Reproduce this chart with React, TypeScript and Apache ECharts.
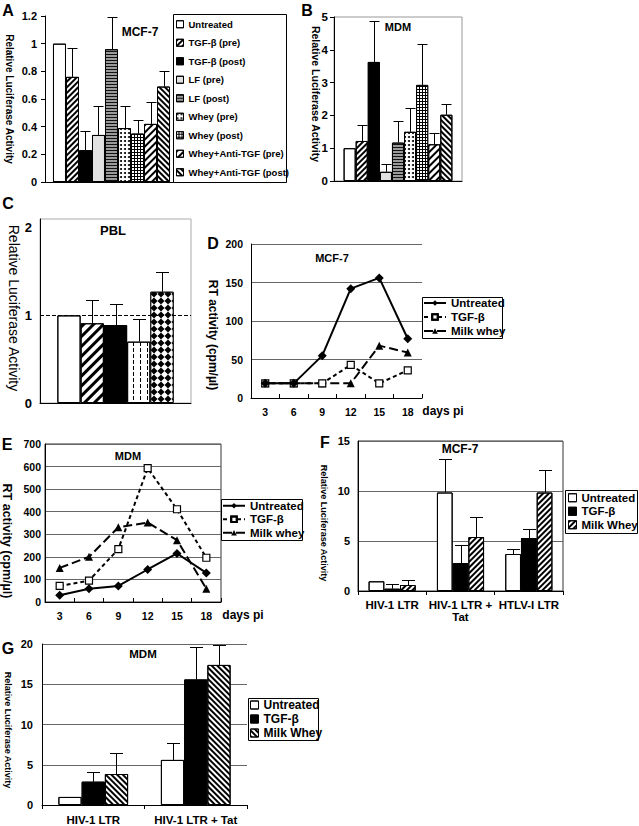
import React, { useEffect, useRef } from 'react';
import * as echarts from 'echarts';

const FONT = '"Liberation Sans", Arial, Helvetica, sans-serif';

// ---------- Panel A / B (9 treatments) ----------
const treatmentNames = [
  'Untreated', 'TGF-β (pre)', 'TGF-β (post)', 'LF (pre)', 'LF (post)',
  'Whey (pre)', 'Whey (post)', 'Whey+Anti-TGF (pre)', 'Whey+Anti-TGF (post)',
];
const mcf7Values = [1.0, 0.76, 0.23, 0.34, 0.96, 0.39, 0.35, 0.42, 0.69];
const mcf7ErrTop = [1.0, 0.97, 0.37, 0.55, 1.19, 0.55, 0.45, 0.58, 0.8];
const mdmValues = [1.0, 1.22, 3.63, 0.28, 1.17, 1.5, 2.93, 1.12, 2.02];
const mdmErrTop = [1.0, 1.72, 4.88, 0.51, 1.84, 2.24, 4.17, 1.45, 2.35];

// ---------- Panel C (PBL) ----------
const pblNames = ['c1', 'c2', 'c3', 'c4', 'c5'];
const pblValues = [1.0, 0.91, 0.89, 0.7, 1.27];
const pblErrTop = [1.0, 1.17, 1.13, 0.96, 1.5];

// ---------- Panel D / E (RT activity) ----------
const days = ['3', '6', '9', '12', '15', '18'];
const lineNames = ['Untreated', 'TGF-β', 'Milk whey'];
const dUntreated = [19, 19, 55, 142, 156, 77];
const dTgf = [19, 19, 19, 43, 19, 36];
const dWhey = [19, 19, 19, 19, 68, 59];
const eUntreated = [30, 59, 71, 144, 215, 129];
const eTgf = [71, 95, 234, 593, 411, 196];
const eWhey = [151, 200, 331, 352, 274, 59];

// ---------- Panel F / G ----------
const groupNames = ['Untreated', 'TGF-β', 'Milk Whey'];
const fCats = ['HIV-1 LTR', 'HIV-1 LTR +\nTat', 'HTLV-I LTR'];
const fValues = [[0.97, 9.85, 3.7], [0.23, 2.8, 5.3], [0.6, 5.4, 9.85]];
const fErrTop = [[0.97, 13.2, 4.2], [0.67, 4.6, 6.2], [1.07, 7.4, 12.1]];
const gCats = ['HIV-1 LTR', 'HIV-1 LTR + Tat'];
const gValues = [[1.0, 5.6], [2.9, 15.6], [3.85, 17.4]];
const gErrTop = [[1.0, 7.7], [4.15, 19.6], [6.45, 19.9]];

// ---------- decals ----------
const SLASH = -Math.PI / 4;
const BACK = Math.PI / 4;
const baseDecal = { symbol: 'rect', symbolSize: 1, symbolKeepAspect: false, rotation: 0 };
const noDecal = { ...baseDecal, color: 'rgba(0,0,0,0)', dashArrayX: [1, 0], dashArrayY: [1, 0] };
const stripes = (w: number, gap: number, rot: number, color = '#000') => ({
  ...baseDecal, color, dashArrayX: [1, 0], dashArrayY: [w, gap], rotation: rot,
});
const dots = (size: number, gap: number, color: string) => ({
  ...baseDecal, symbol: 'circle', symbolKeepAspect: true, color, dashArrayX: [size, gap], dashArrayY: [size, gap],
});
const gridDecal = { ...baseDecal, color: '#fff', dashArrayX: [2, 1], dashArrayY: [2, 1] };
const vDash = { ...baseDecal, color: '#000', dashArrayX: [1, 6], dashArrayY: [4, 2] };
const diamonds = { ...baseDecal, symbol: 'diamond', color: '#fff', dashArrayX: [7, 0], dashArrayY: [7, 0] };

const abStyles = [
  { fill: '#fff', decal: noDecal },
  { fill: '#fff', decal: stripes(1.3, 1.7, SLASH) },
  { fill: '#000', decal: noDecal },
  { fill: '#e2e2e2', decal: dots(1, 1, '#999') },
  { fill: '#9a9a9a', decal: stripes(1, 1.5, 0, '#111') },
  { fill: '#fff', decal: dots(1.5, 1.5, '#000') },
  { fill: '#000', decal: gridDecal },
  { fill: '#fff', decal: stripes(1.2, 2.8, SLASH) },
  { fill: '#fff', decal: stripes(1.3, 1.7, BACK) },
];
const cStyles = [
  { fill: '#fff', decal: noDecal },
  { fill: '#fff', decal: stripes(2.5, 3.5, SLASH) },
  { fill: '#000', decal: noDecal },
  { fill: '#fff', decal: vDash },
  { fill: '#000', decal: diamonds },
];
const fStyles = [
  { fill: '#fff', decal: noDecal },
  { fill: '#000', decal: noDecal },
  { fill: '#fff', decal: stripes(1.3, 1.7, SLASH) },
];
const gStyles = [
  { fill: '#fff', decal: noDecal },
  { fill: '#000', decal: noDecal },
  { fill: '#fff', decal: stripes(1.3, 1.7, BACK) },
];

const strip = (n: string) => n.split('|')[1];

function bars(id: string, names: string[], data: number[][], axis: number, styles: any[], gap: string) {
  return names.map((n, j) => ({
    type: 'bar', name: `${id}|${n}`, xAxisIndex: axis, yAxisIndex: axis,
    data: data[j], barGap: '0%', barCategoryGap: gap, z: 2,
    itemStyle: { color: styles[j].fill, borderColor: '#000', borderWidth: 1, decal: styles[j].decal },
    emphasis: { disabled: true },
  }));
}

function errSeries(axis: number, n: number, gapFrac: number, cap: number, values: number[][], tops: number[][]) {
  const rows: number[][] = [];
  values.forEach((vals, j) => vals.forEach((v, c) => {
    if (tops[j][c] > v) rows.push([c, j, v, tops[j][c]]);
  }));
  return {
    type: 'custom', xAxisIndex: axis, yAxisIndex: axis, data: rows, z: 3, silent: true,
    encode: { x: 0, y: [2, 3] }, itemStyle: { decal: noDecal },
    renderItem: (_p: any, api: any) => {
      const cat = api.value(0); const j = api.value(1);
      const band = api.size([1, 0])[0];
      const total = band * (1 - gapFrac);
      const bw = total / n;
      const a = api.coord([cat, api.value(2)]);
      const b = api.coord([cat, api.value(3)]);
      const x = Math.round(a[0] - total / 2 + bw * (j + 0.5)) + 0.5;
      const yb = Math.round(b[1]) + 0.5;
      return {
        type: 'group', children: [
          { type: 'line', shape: { x1: x, y1: a[1], x2: x, y2: yb }, style: { stroke: '#000', lineWidth: 1 } },
          { type: 'line', shape: { x1: x - cap, y1: yb, x2: x + cap, y2: yb }, style: { stroke: '#000', lineWidth: 1 } },
        ],
      };
    },
  };
}

function lineSeries(id: string, axis: number, name: string, data: number[], symbol: string, size: number, dash: any, fill: string, z: number) {
  return {
    type: 'line', name: `${id}|${name}`, xAxisIndex: axis, yAxisIndex: axis, data,
    symbol, symbolSize: size, showSymbol: true, showAllSymbol: true, z,
    lineStyle: { color: '#000', width: 2, type: dash },
    itemStyle: { color: fill, borderColor: '#000', borderWidth: fill === '#000' ? 0 : 1.2, decal: noDecal },
    emphasis: { disabled: true },
  };
}

const labelStyle = (size: number, margin: number) => ({
  fontFamily: FONT, fontWeight: 'bold', fontSize: size, color: '#000', margin,
});
const blackLine = { show: true, lineStyle: { color: '#000', width: 1 } };
const gridLines = { show: true, lineStyle: { color: '#666', width: 1 } };

function valueAxis(grid: number, max: number, interval: number, size: number, margin: number, opts: any = {}) {
  return {
    type: 'value', gridIndex: grid, min: 0, max, interval,
    axisLine: blackLine,
    axisTick: opts.tick ? { show: true, length: 4, lineStyle: { color: '#000' } } : { show: false },
    axisLabel: { ...labelStyle(size, margin), ...(opts.formatter ? { formatter: opts.formatter } : {}) },
    splitLine: opts.split ? gridLines : { show: false },
  };
}

function catAxis(grid: number, data: string[], opts: any = {}) {
  return {
    type: 'category', gridIndex: grid, data,
    axisLine: blackLine,
    axisTick: opts.tick ? { show: true, inside: !!opts.inside, length: 4, lineStyle: { color: '#000' } } : { show: false },
    axisLabel: opts.label ? { ...labelStyle(opts.size, opts.margin), interval: 0, lineHeight: 12 } : { show: false },
    splitLine: { show: false },
  };
}

function txt(text: string, x: number, y: number, size: number, rot = 0, weight = 'bold') {
  return {
    type: 'text', x, y, rotation: rot, z: 6, silent: true,
    style: {
      text, fontFamily: FONT, fontWeight: weight, fontSize: size, fill: '#000',
      align: 'center', verticalAlign: 'middle', textAlign: 'center', textVerticalAlign: 'middle',
    },
  };
}
function box(x: number, y: number, w: number, h: number) {
  return { type: 'rect', z: 1, silent: true, shape: { x: x + 0.5, y: y + 0.5, width: w, height: h }, style: { fill: '#fff', stroke: '#000', lineWidth: 1 } };
}

function legend(names: string[], left: number, top: number, w: number, h: number, size: number, lh: number, rect: boolean) {
  return {
    data: names, left, top, orient: 'vertical', itemWidth: w, itemHeight: h, itemGap: 0, padding: 0,
    selectedMode: false, formatter: strip, ...(rect ? { icon: 'rect', itemStyle: { borderColor: '#000', borderWidth: 1 } } : {}),
    textStyle: { fontFamily: FONT, fontWeight: 'bold', fontSize: size, lineHeight: lh, color: '#000' },
  };
}

function buildOption() {
  const one = (vals: number[]) => vals.map((v) => [v]);
  const R = -Math.PI / 2;
  const ln = (id: string) => lineNames.map((n) => `${id}|${n}`);
  return {
    animation: false,
    backgroundColor: '#fff',
    aria: { enabled: true, label: { enabled: false }, decal: { show: true } },
    grid: [
      { left: 45, top: 16, width: 133, height: 166 },
      { left: 334, top: 17, width: 128, height: 164, show: true, borderColor: '#999', borderWidth: 1 },
      { left: 40, top: 219, width: 151, height: 184, show: true, borderColor: '#aaa', borderWidth: 1 },
      { left: 251, top: 244, width: 171, height: 154 },
      { left: 45, top: 444, width: 176, height: 158, show: true, borderColor: '#333', borderWidth: 1 },
      { left: 358, top: 441, width: 205, height: 150, show: true, borderColor: '#333', borderWidth: 1 },
      { left: 42, top: 644, width: 205, height: 162 },
    ],
    xAxis: [
      catAxis(0, ['MCF-7']),
      catAxis(1, ['MDM']),
      catAxis(2, ['PBL']),
      catAxis(3, days, { tick: true, inside: true, label: true, size: 10.5, margin: 8 }),
      catAxis(4, days, { tick: true, inside: true, label: true, size: 10.5, margin: 8 }),
      catAxis(5, fCats, { tick: true, label: true, size: 11.5, margin: 8 }),
      catAxis(6, gCats, { tick: true, label: true, size: 11.5, margin: 9 }),
    ],
    yAxis: [
      valueAxis(0, 1.2, 0.2, 11, 8, { tick: true }),
      valueAxis(1, 5, 1, 11.5, 6, { tick: true }),
      valueAxis(2, 2.1, 1, 13, 8, { formatter: (v: number) => (Number.isInteger(v) ? String(v) : '') }),
      valueAxis(3, 200, 50, 10.5, 8, { split: true }),
      valueAxis(4, 700, 100, 10.5, 4, { split: true }),
      valueAxis(5, 15, 5, 11, 8, { split: true }),
      valueAxis(6, 20, 5, 11, 9, { split: true }),
    ],
    legend: [
      legend(treatmentNames.map((n) => `A|${n}`), 176, 15, 7, 7, 9.5, 18.5, true),
      legend(ln('D'), 423, 296, 22, 7, 11.5, 14, false),
      legend(ln('E'), 222, 499, 22, 7, 11.5, 13.5, false),
      legend(groupNames.map((n) => `F|${n}`), 568, 491, 8, 8, 11.5, 13.5, true),
      legend(groupNames.map((n) => `G|${n}`), 250, 698, 8, 8, 12, 14, true),
    ],
    series: [
      ...bars('A', treatmentNames, one(mcf7Values), 0, abStyles, '12%'),
      errSeries(0, 9, 0.12, 5, one(mcf7Values), one(mcf7ErrTop)),
      ...bars('B', treatmentNames, one(mdmValues), 1, abStyles, '15%'),
      errSeries(1, 9, 0.15, 5, one(mdmValues), one(mdmErrTop)),
      ...bars('C', pblNames, one(pblValues), 2, cStyles, '23%').map((s, i) => (i === 0 ? {
        ...s,
        markLine: {
          silent: true, symbol: ['none', 'none'], label: { show: false },
          lineStyle: { type: 'dashed', color: '#000', width: 1 }, data: [{ yAxis: 1 }],
        },
      } : s)),
      errSeries(2, 5, 0.23, 6.5, one(pblValues), one(pblErrTop)),
      lineSeries('D', 3, 'Milk whey', dWhey, 'triangle', 8, [9, 4], '#000', 3),
      lineSeries('D', 3, 'TGF-β', dTgf, 'rect', 7, [4, 3], '#fff', 4),
      lineSeries('D', 3, 'Untreated', dUntreated, 'diamond', 9, 'solid', '#000', 5),
      lineSeries('E', 4, 'Milk whey', eWhey, 'triangle', 8, [9, 4], '#000', 3),
      lineSeries('E', 4, 'TGF-β', eTgf, 'rect', 7, [4, 3], '#fff', 4),
      lineSeries('E', 4, 'Untreated', eUntreated, 'diamond', 9, 'solid', '#000', 5),
      ...bars('F', groupNames, fValues, 5, fStyles, '31%'),
      errSeries(5, 3, 0.31, 6.5, fValues, fErrTop),
      ...bars('G', groupNames, gValues, 6, gStyles, '32%'),
      errSeries(6, 3, 0.32, 6.5, gValues, gErrTop),
    ],
    graphic: [
      box(173, 14, 113, 168),
      box(422, 297, 80, 41),
      box(221, 499, 81, 41),
      box(565, 490, 72, 43),
      box(248, 698, 70, 42),
      txt('A', 8, 10, 16), txt('B', 307, 10, 16), txt('C', 8, 203, 16), txt('D', 213, 243, 16),
      txt('E', 7, 444, 16), txt('F', 325, 442, 16), txt('G', 8, 648, 16),
      txt('MCF-7', 140, 32, 12), txt('MDM', 398, 27, 11), txt('PBL', 113, 230, 13),
      txt('MCF-7', 332, 258, 11), txt('MDM', 128, 456, 11), txt('MCF-7', 460, 449, 12), txt('MDM', 143, 654, 11.5),
      txt('Relative Luciferase Activity', 9, 99, 10, R),
      txt('Relative Luciferase Activity', 316, 94, 10.5, R),
      txt('Relative Luciferase Activity', 14, 308, 14, R, 'normal'),
      txt('RT activity (cpm/µl)', 213, 335, 12, R),
      txt('RT activity (cpm/µl)', 7, 541, 12.5, R),
      txt('Relative Luciferase Activity', 324, 523, 9, R),
      txt('Relative Luciferase Activity', 8, 730, 9, R),
      txt('days pi', 443, 411, 12), txt('days pi', 243, 615, 12),
    ],
  };
}

export default function App() {
  const ref = useRef<HTMLDivElement>(null);
  useEffect(() => {
    if (!ref.current) return;
    const chart = echarts.init(ref.current, undefined, { renderer: 'svg' });
    chart.setOption(buildOption() as any);
    return () => chart.dispose();
  }, []);
  return <div ref={ref} style={{ position: 'absolute', left: 0, top: 0, width: 639, height: 826, background: '#fff' }} />;
}
